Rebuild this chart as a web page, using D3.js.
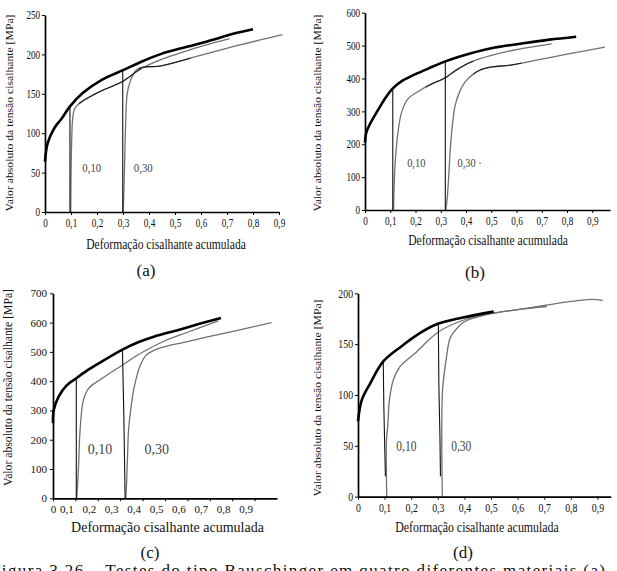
<!DOCTYPE html>
<html>
<head>
<meta charset="utf-8">
<script src="https://cdn.jsdelivr.net/npm/d3@7"></script>
<style>
  body { margin: 0; background: #fff; }
  svg { display: block; }
  text { font-family: "Liberation Serif", "Times New Roman", serif; fill: #111; }
</style>
</head>
<body>
<div id="chart"></div>
<script>
// shared ticks / labels
const xTicks = [0, 0.1, 0.2, 0.3, 0.4, 0.5, 0.6, 0.7, 0.8, 0.9];
const curveNames = ["0,10", "0,30"];
const xTitle = "Deformação cisalhante acumulada";
const yTitle = "Valor absoluto da tensão cisalhante [MPa]";
const caption = "Figura 3.26 – Testes do tipo Bauschinger em quatro diferentes materiais (a)";

// (a)
const aYTicks = [0, 50, 100, 150, 200, 250];
const aMono = [[0,64],[0.01,87],[0.035,106],[0.065,119],[0.096,134],[0.145,151],[0.22,168],[0.3,180],[0.38,192],[0.45,201],[0.55,210],[0.65,219],[0.72,226],[0.8,232]];
const aUnload10 = [[0.096,134],[0.096,0]];
const aReload10 = [[0.099,0],[0.1,45],[0.103,95],[0.106,117],[0.114,131],[0.133,138],[0.2,151],[0.3,166],[0.365,181],[0.45,194],[0.53,203],[0.62,212],[0.71,220]];
const aUnload30 = [[0.299,180],[0.299,0]];
const aReload30 = [[0.301,0],[0.305,45],[0.31,110],[0.316,150],[0.328,166],[0.35,180],[0.38,184],[0.44,185],[0.6,199],[0.75,212],[0.913,225]];

// (b)
const bYTicks = [0, 100, 200, 300, 400, 500, 600];
const bMono = [[0,205],[0.005,235],[0.02,262],[0.05,302],[0.08,340],[0.11,370],[0.15,394],[0.2,413],[0.25,430],[0.318,452],[0.416,476],[0.5,492],[0.627,507],[0.73,518],[0.836,527]];
const bUnload10 = [[0.11,370],[0.11,0]];
const bReload10 = [[0.113,0],[0.114,40],[0.12,150],[0.133,250],[0.146,300],[0.17,338],[0.22,365],[0.26,382],[0.318,402],[0.36,425],[0.42,450],[0.5,470],[0.6,488],[0.739,505]];
const bUnload30 = [[0.318,452],[0.318,0]];
const bReload30 = [[0.32,0],[0.326,40],[0.332,110],[0.34,210],[0.357,318],[0.375,360],[0.395,388],[0.43,414],[0.46,427],[0.5,435],[0.57,440],[0.7,459],[0.8,474],[0.95,495]];
const bNames = ["0,10", "0,30 ·"];

// (c)
const cYTicks = [0, 100, 200, 300, 400, 500, 600, 700];
const cMono = [[0,256],[0.003,300],[0.025,347],[0.06,385],[0.104,410],[0.15,435],[0.2,459],[0.31,508],[0.38,533],[0.45,552],[0.56,575],[0.65,595],[0.75,616]];
const cUnload10 = [[0.104,410],[0.104,0]];
const cReload10 = [[0.106,0],[0.11,50],[0.114,110],[0.121,233],[0.136,336],[0.16,376],[0.21,405],[0.31,455],[0.38,490],[0.5,538],[0.6,567],[0.738,606]];
const cUnload30 = [[0.31,508],[0.316,290],[0.322,0]];
const cReload30 = [[0.325,0],[0.329,60],[0.333,150],[0.338,240],[0.35,320],[0.36,370],[0.375,420],[0.39,455],[0.415,488],[0.45,505],[0.49,516],[0.6,535],[0.7,553],[0.8,569],[0.975,600]];

// (d)
const dYTicks = [0, 50, 100, 150, 200];
const dMono = [[0,74],[0.014,95],[0.045,111],[0.095,133],[0.164,148],[0.24,162],[0.3,170],[0.39,176],[0.51,182]];
const dUnload10 = [[0.095,133],[0.097,90],[0.1,55],[0.103,20]];
const dReload10 = [[0.108,0],[0.107,55],[0.112,70],[0.118,95],[0.133,115],[0.158,128],[0.214,141],[0.302,162],[0.39,173],[0.477,179],[0.6,184],[0.71,187]];
const dUnload30 = [[0.302,170],[0.304,110],[0.308,60],[0.31,20]];
const dReload30 = [[0.317,0],[0.315,60],[0.318,105],[0.333,138],[0.345,155],[0.358,161],[0.4,172],[0.5,180],[0.6,184],[0.7,188],[0.8,192],[0.88,194],[0.92,193]];

const panels = [
  {letter:"(a)", yTicks:aYTicks, yMax:250, xMax:0.9, mono:aMono,
   unload:[aUnload10,aUnload30], reload:[aReload10,aReload30], names:curveNames,
   dark:[[0.13,0.37],[0.36,0.56]],
   xr:[45,279], yr:[212,15], sx:0.8, tick:11.5, xShift:0,
   xt:{x:166,y:249,size:14.5}, yt:{x:9.5,y:113}, lab:[[0.18,57],[0.378,57]], labSize:13.5, let:[146,276]},
  {letter:"(b)", yTicks:bYTicks, yMax:600, xMax:0.97, mono:bMono,
   unload:[bUnload10,bUnload30], reload:[bReload10,bReload30], names:bNames,
   dark:[[0.24,0.43],[0.43,0.62]],
   xr:[365,610], yr:[210,12.7], sx:0.8, tick:11.5, xShift:0,
   xt:{x:488,y:245,size:14.5}, yt:{x:317.5,y:113}, lab:[[0.203,142],[0.414,142]], labSize:13, let:[475,277.5]},
  {letter:"(c)", yTicks:cYTicks, yMax:700, xMax:1.0, mono:cMono,
   unload:[cUnload10,cUnload30], reload:[cReload10,cReload30], names:curveNames,
   dark:[],
   xr:[53,277], yr:[498.3,293.3], sx:1, tick:11, xShift:-9,
   xt:{x:167.5,y:531.5,size:14}, yt:{x:8.5,y:387.5}, lab:[[0.21,165],[0.463,165]], labSize:14, let:[150,557.5]},
  {letter:"(d)", yTicks:dYTicks, yMax:200, xMax:0.95, mono:dMono,
   unload:[dUnload10,dUnload30], reload:[dReload10,dReload30], names:curveNames,
   dark:[],
   xr:[358,610.7], yr:[496.7,293.3], sx:0.82, tick:12, xShift:0,
   xt:{x:477,y:531.5,size:14.5}, yt:{x:317.5,y:398}, lab:[[0.182,49],[0.388,49]], labSize:14, let:[463,557.5]}
];

const svg = d3.select("#chart").append("svg")
    .attr("width", 617)
    .attr("height", 571);
const defs = svg.append("defs");

const fmt = d => d === 0 ? "0" : d3.format(".1f")(d).replace(".", ",");

panels.forEach((p, pi) => {
    let x = d3.scaleLinear().domain([0, p.xMax]).range(p.xr);
    let y = d3.scaleLinear().domain([0, p.yMax]).range(p.yr);
    let g = svg.append("g");

    let line = d3.line()
        .x(d => x(d[0]))
        .y(d => y(d[1]))
        .curve(d3.curveCatmullRom.alpha(0.5));

    // reload branches (grey)
    g.selectAll(".reload").data(p.reload).enter().append("path")
        .attr("d", line)
        .attr("fill", "none")
        .attr("stroke", "#707070")
        .attr("stroke-width", 1.3);

    // parts of the reload branches that are printed in black
    p.dark.forEach((span, k) => {
        let id = "dk" + pi + "_" + k;
        defs.append("clipPath").attr("id", id)
            .append("rect")
            .attr("x", x(span[0]))
            .attr("width", x(span[1]) - x(span[0]))
            .attr("y", p.yr[1] - 10)
            .attr("height", p.yr[0] - p.yr[1] + 10);
        g.append("path")
            .datum(p.reload[k])
            .attr("d", line)
            .attr("clip-path", "url(#" + id + ")")
            .attr("fill", "none")
            .attr("stroke", "#1a1a1a")
            .attr("stroke-width", 1.1);
    });

    // unloading, thin black
    g.selectAll(".unload").data(p.unload).enter().append("path")
        .attr("d", d3.line().x(d => x(d[0])).y(d => y(d[1])))
        .attr("fill", "none")
        .attr("stroke", "#111")
        .attr("stroke-width", 1.1);

    // monotonic curve, thick
    g.append("path")
        .datum(p.mono)
        .attr("d", line)
        .attr("fill", "none")
        .attr("stroke", "#000")
        .attr("stroke-width", 2.6);

    // axes
    let xAxis = d3.axisBottom(x).tickValues(xTicks).tickFormat(fmt)
        .tickSize(3).tickSizeOuter(0).tickPadding(4);
    let yAxis = d3.axisLeft(y).tickValues(p.yTicks)
        .tickSize(3).tickSizeOuter(0).tickPadding(3);

    let gx = g.append("g")
        .attr("transform", "translate(0," + p.yr[0] + ")")
        .call(xAxis);
    gx.selectAll("text")
        .attr("dx", d => d === 0 ? 0 : p.xShift)
        .style("font-size", p.tick + "px")
        .attr("transform", "scale(" + p.sx + ",1)");

    let gy = g.append("g")
        .attr("transform", "translate(" + p.xr[0] + ",0)")
        .call(yAxis);
    gy.selectAll("text")
        .style("font-size", p.tick + "px")
        .attr("transform", "scale(" + p.sx + ",1)");

    [gx, gy].forEach(a => {
        a.attr("font-family", null);
        a.select(".domain").attr("stroke", "#000").attr("stroke-width", 1.7);
        a.selectAll(".tick line").attr("stroke", "#000");
        a.selectAll("text")
            .style("fill", "#111")
            .style("font-family", "'Liberation Serif', 'Times New Roman', serif");
    });

    // titles
    g.append("text")
        .attr("transform", "translate(" + p.xt.x + "," + p.xt.y + ") scale(" + p.sx + ",1)")
        .attr("text-anchor", "middle")
        .style("font-size", p.xt.size + "px")
        .text(xTitle);

    g.append("text")
        .attr("transform", "translate(" + p.yt.x + "," + p.yt.y + ") scale(" + p.sx + ",1) rotate(-90)")
        .attr("text-anchor", "middle")
        .attr("dominant-baseline", "central")
        .style("font-size", "11.7px")
        .text(yTitle);

    // branch labels
    g.selectAll(".lab").data(p.lab).enter().append("text")
        .attr("transform", (d) => "translate(" + x(d[0]) + "," + y(d[1]) + ") scale(" + p.sx + ",1)")
        .attr("text-anchor", "middle")
        .attr("dominant-baseline", "central")
        .style("font-size", p.labSize + "px")
        .style("fill", "#444")
        .text((d, i) => p.names[i]);

    g.append("text")
        .attr("x", p.let[0])
        .attr("y", p.let[1])
        .attr("text-anchor", "middle")
        .style("font-size", "17px")
        .text(p.letter);
});

// caption, cut by the bottom edge as in the source page
svg.append("text")
    .attr("x", -9)
    .attr("y", 576)
    .attr("textLength", 614)
    .attr("lengthAdjust", "spacing")
    .style("font-size", "17px")
    .text(caption);
</script>
</body>
</html>
